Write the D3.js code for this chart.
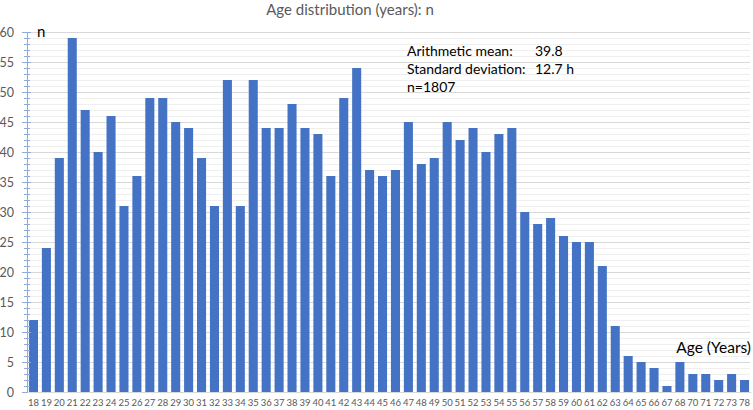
<!DOCTYPE html>
<meta charset="utf-8">
<style>
body { margin: 0; background: #fff; font-family: Lato, "Open Sans", sans-serif; }
.grid line { shape-rendering: crispEdges; }
</style>
<body>
<script src="https://d3js.org/d3.v7.min.js"></script>
<script>
// ages on the x axis (69, 74-77 missing in the source)
var ages = ["18","19","20","21","22","23","24","25","26","27","28","29","30","31","32","33","34","35","36","37",
  "38","39","40","41","42","43","44","45","46","47","48","49","50","51","52","53","54","55","56","57",
  "58","59","60","61","62","63","64","65","66","67","68","70","71","72","73","78"];
// number of people per age
var counts = [12,24,39,59,47,40,46,31,36,49,49,45,44,39,31,52,31,52,44,44,
  48,44,43,36,49,54,37,36,37,45,38,39,45,42,44,40,43,44,30,28,
  29,26,25,25,21,11,6,5,4,1,5,3,3,2,3,2];
var yTicks = [0,5,10,15,20,25,30,35,40,45,50,55,60];
var statLabels = ["Arithmetic mean:", "Standard deviation:", "n=1807"];
var statValues = ["39.8", "12.7 h", ""];

var width = 753, height = 410;
var plotLeft = 27, plotRight = 751, plotTop = 32, plotBottom = 392;

var svg = d3.select("body").append("svg")
    .attr("width", width)
    .attr("height", height);

var x = d3.scaleBand()
    .domain(ages)
    .range([plotLeft, plotRight])
    .paddingInner(0.3)
    .paddingOuter(0.15);

var y = d3.scaleLinear()
    .domain([0, 60])
    .range([plotBottom, plotTop]);

// gridlines, minor every 1, major every 5
var grid = svg.append("g").attr("class", "grid");
grid.selectAll("line")
    .data(d3.range(1, 61))
    .enter().append("line")
    .attr("x1", plotLeft)
    .attr("x2", 750)
    .attr("y1", function(d) { return Math.round(y(d)) + 0.5; })
    .attr("y2", function(d) { return Math.round(y(d)) + 0.5; })
    .attr("stroke", function(d) { return d % 5 == 0 ? "#d9d9d9" : "#efefef"; })
    .attr("stroke-width", 1);

// title
svg.append("text")
    .attr("x", 350)
    .attr("y", 15)
    .attr("text-anchor", "middle")
    .attr("font-size", "15px")
    .attr("fill", "#595959")
    .text("Age distribution (years): n");

// bars
svg.append("g")
  .selectAll("rect")
    .data(counts)
  .enter().append("rect")
    .attr("x", function(d, i) { return x(ages[i]); })
    .attr("y", function(d) { return y(d); })
    .attr("width", x.bandwidth())
    .attr("height", function(d) { return y(0) - y(d); })
    .attr("fill", "#4472c4");

// y axis: major ticks + minor ticks
var yAxis = svg.append("g")
    .attr("transform", "translate(" + plotLeft + ",0)")
    .call(d3.axisLeft(y).tickValues(yTicks).tickSize(0).tickPadding(13));
yAxis.select(".domain").attr("stroke", "#8faadc");
yAxis.selectAll("text")
    .attr("font-family", "Lato, sans-serif")
    .attr("font-size", "12.5px")
    .attr("fill", "#595959");

yAxis.selectAll(".minor")
    .data(d3.range(0, 61))
    .enter().append("line")
    .attr("class", "minor")
    .attr("x1", function(d) { return d % 5 == 0 ? -5 : -3; })
    .attr("x2", function(d) { return d % 5 == 0 ? 4 : 3; })
    .attr("y1", function(d) { return Math.round(y(d)) + 0.5; })
    .attr("y2", function(d) { return Math.round(y(d)) + 0.5; })
    .attr("stroke", "#8faadc");

// x axis labels
var xAxis = svg.append("g")
    .attr("transform", "translate(0," + plotBottom + ")")
    .call(d3.axisBottom(x).tickSize(0).tickPadding(7));
xAxis.select(".domain").attr("stroke", "#d9d9d9");
xAxis.selectAll("text")
    .attr("font-family", "Lato, sans-serif")
    .attr("font-size", "9.5px")
    .attr("fill", "#595959");

// axis titles
svg.append("text")
    .attr("x", 37)
    .attr("y", 37)
    .attr("font-size", "15px")
    .attr("fill", "#000")
    .text("n");

svg.append("text")
    .attr("x", 751)
    .attr("y", 353)
    .attr("text-anchor", "end")
    .attr("font-size", "15.5px")
    .attr("fill", "#000")
    .text("Age (Years)");

// stats box
var stats = svg.append("g");
stats.selectAll(".lbl")
    .data(statLabels)
  .enter().append("text")
    .attr("class", "lbl")
    .attr("x", 407)
    .attr("y", function(d, i) { return 56 + i * 18; })
    .attr("font-size", "14px")
    .attr("fill", "#000")
    .text(function(d) { return d; });
stats.selectAll(".val")
    .data(statValues)
  .enter().append("text")
    .attr("class", "val")
    .attr("x", 535)
    .attr("y", function(d, i) { return 56 + i * 18; })
    .attr("font-size", "14px")
    .attr("fill", "#000")
    .text(function(d) { return d; });
</script>
</body>
